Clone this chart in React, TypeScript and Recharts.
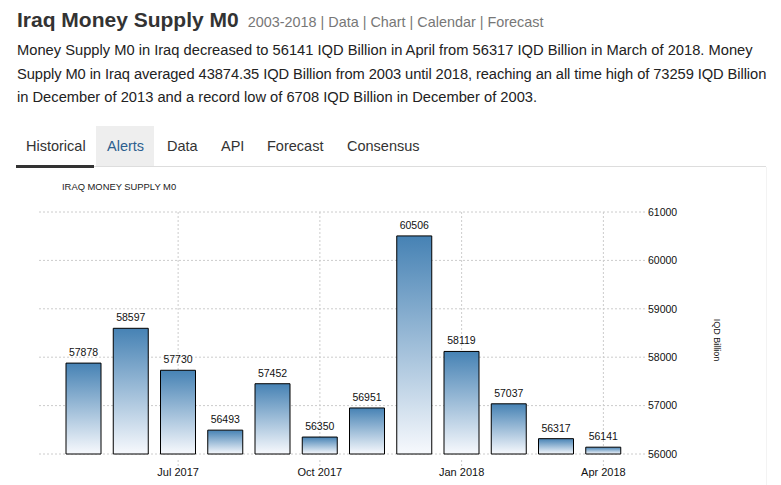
import React from 'react';
import { BarChart, Bar, XAxis, YAxis, CartesianGrid, LabelList, ReferenceLine } from 'recharts';

const months = ['May 2017', 'Jun 2017', 'Jul 2017', 'Aug 2017', 'Sep 2017', 'Oct 2017', 'Nov 2017', 'Dec 2017', 'Jan 2018', 'Feb 2018', 'Mar 2018', 'Apr 2018'];
const values = [57878, 58597, 57730, 56493, 57452, 56350, 56951, 60506, 58119, 57037, 56317, 56141];
const xTickLabels = ['Jul 2017', 'Oct 2017', 'Jan 2018', 'Apr 2018'];
const yTicks = [56000, 57000, 58000, 59000, 60000, 61000];
const tabs = ['Historical', 'Alerts', 'Data', 'API', 'Forecast', 'Consensus'];
const tabX = [26, 107, 167, 221, 267, 347];

const data = months.map((m, i) => ({ month: m, value: values[i] }));

const FONT = '"Liberation Sans", Arial, sans-serif';
const MARGIN = { top: 42, right: 56, left: 39, bottom: 6 };

const XTick = (props: any) => {
  const { x, y, payload } = props;
  if (!xTickLabels.includes(payload.value)) return <g />;
  return (
    <g>
      <line x1={x} x2={x} y1={y - 2} y2={y + 4} stroke="#ccc" strokeDasharray="2 2" />
      <text x={x} y={y + 14} textAnchor="middle" fontSize={11} fill="#111" fontFamily={FONT}>
        {payload.value}
      </text>
    </g>
  );
};

const EmptyTick = () => <g />;

export default function App() {
  return (
    <div style={{ position: 'absolute', left: 0, top: 0, width: 781, height: 485, background: '#fff', fontFamily: FONT, overflow: 'hidden' }}>
      <div style={{ position: 'absolute', left: 17, top: 8, whiteSpace: 'nowrap' }}>
        <span style={{ fontSize: 21, fontWeight: 'bold', color: '#333' }}>Iraq Money Supply M0</span>
        <span style={{ fontSize: 14.4, color: '#777', marginLeft: 9 }}>2003-2018 | Data | Chart | Calendar | Forecast</span>
      </div>
      <div style={{ position: 'absolute', left: 17, top: 39, fontSize: 14.7, lineHeight: '23.5px', color: '#222', whiteSpace: 'nowrap' }}>
        <div>Money Supply M0 in Iraq decreased to 56141 IQD Billion in April from 56317 IQD Billion in March of 2018. Money</div>
        <div style={{ letterSpacing: '-0.08px' }}>Supply M0 in Iraq averaged 43874.35 IQD Billion from 2003 until 2018, reaching an all time high of 73259 IQD Billion</div>
        <div>in December of 2013 and a record low of 6708 IQD Billion in December of 2003.</div>
      </div>
      <div style={{ position: 'absolute', left: 96, top: 126, width: 58, height: 41, background: '#eee' }} />
      <div style={{ position: 'absolute', left: 16, top: 166, width: 750, height: 1, background: '#ddd' }} />
      <div style={{ position: 'absolute', left: 16, top: 165, width: 78, height: 3, background: '#333' }} />
      <div style={{ position: 'absolute', left: 766, top: 167, width: 1, height: 318, background: '#f3f3f3' }} />
      {tabs.map((t, i) => (
        <div key={t} style={{ position: 'absolute', left: tabX[i], top: 138, fontSize: 14.5, color: t === 'Alerts' ? '#2d5f8f' : '#333', whiteSpace: 'nowrap' }}>
          {t}
        </div>
      ))}
      <div style={{ position: 'absolute', left: 62, top: 181, fontSize: 9.4, color: '#222', whiteSpace: 'nowrap' }}>IRAQ MONEY SUPPLY M0</div>
      {/* back layer: grid lines */}
      <div style={{ position: 'absolute', left: 0, top: 170 }}>
        <BarChart width={781} height={315} data={data} margin={MARGIN} barSize={35}>
          <CartesianGrid vertical={false} stroke="#ccc" strokeDasharray="2 2" />
          <XAxis dataKey="month" interval={0} axisLine={false} tickLine={false} tick={<EmptyTick />} height={25} padding={{ left: 21, right: 18 }} />
          <YAxis orientation="right" domain={[56000, 61000]} ticks={yTicks} axisLine={false} tickLine={false} tick={<EmptyTick />} width={80} />
          {xTickLabels.map((t) => (
            <ReferenceLine key={t} x={t} stroke="#ccc" strokeDasharray="2 2" />
          ))}
          <Bar dataKey="value" fill="none" stroke="none" isAnimationActive={false} />
        </BarChart>
      </div>
      {/* front layer: bars, labels, axes */}
      <div style={{ position: 'absolute', left: 0, top: 170 }}>
        <BarChart width={781} height={315} data={data} margin={MARGIN} barSize={35}>
          <defs>
            <linearGradient id="barGrad" x1="0" y1="0" x2="0" y2="1">
              <stop offset="0%" stopColor="#4682b4" />
              <stop offset="100%" stopColor="#f7f9fd" />
            </linearGradient>
          </defs>
          <XAxis
            dataKey="month"
            interval={0}
            axisLine={false}
            tickLine={false}
            tick={<XTick />}
            height={25}
            padding={{ left: 21, right: 18 }}
          />
          <YAxis
            orientation="right"
            domain={[56000, 61000]}
            ticks={yTicks}
            axisLine={false}
            tickLine={false}
            tickSize={1}
            tickMargin={2}
            width={80}
            tick={{ fontSize: 10.5, fill: '#111', fontFamily: FONT }}
            label={{
              content: (p: any) => {
                const vb = p.viewBox;
                const cx = vb.x + 72;
                const cy = vb.y + vb.height / 2 + 7;
                return (
                  <text x={cx} y={cy} transform={`rotate(90, ${cx}, ${cy})`} textAnchor="middle" fontSize={9} fill="#111" fontFamily={FONT} dy={3}>
                    IQD Billion
                  </text>
                );
              },
            }}
          />
          <Bar dataKey="value" fill="url(#barGrad)" stroke="#000" strokeWidth={1} isAnimationActive={false}>
            <LabelList dataKey="value" position="top" offset={7} fontSize={10.5} fill="#111" fontFamily={FONT} />
          </Bar>
        </BarChart>
      </div>
    </div>
  );
}
